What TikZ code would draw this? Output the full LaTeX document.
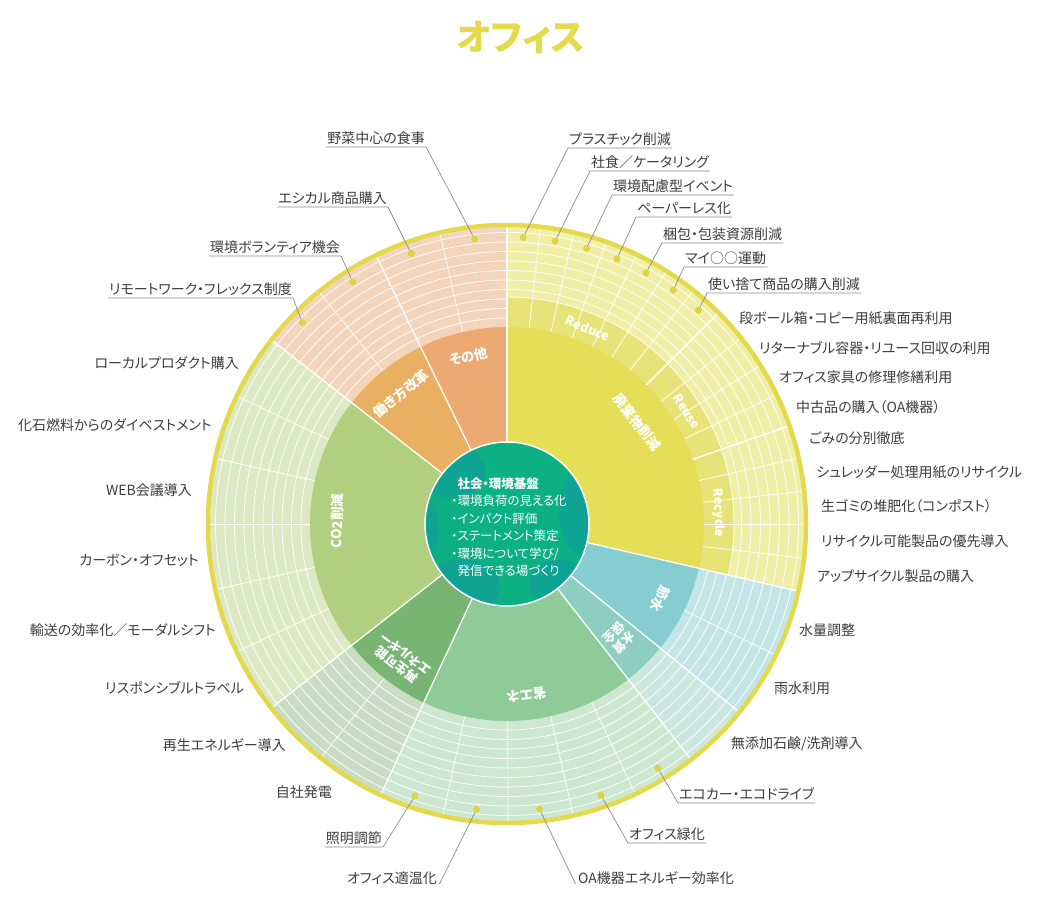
\documentclass[tikz,border=0pt]{standalone}
\usepackage{fontspec}
\setmainfont{Noto Sans CJK JP}[RawFeature=+palt]
\usetikzlibrary{calc}

\definecolor{titleyellow}{HTML}{E4DA4B}
\definecolor{ringyellow}{HTML}{E3D94A}
\definecolor{dotyellow}{HTML}{DDD343}
\definecolor{haiki}{HTML}{E5DF57}
\definecolor{yelband}{HTML}{E8E378}
\definecolor{yelouter}{HTML}{F1EEA8}
\definecolor{sonota}{HTML}{ECA972}
\definecolor{hataraki}{HTML}{E8B060}
\definecolor{orangeouter}{HTML}{F4D5BC}
\definecolor{cotwo}{HTML}{B0D07F}
\definecolor{cotwoouter}{HTML}{DCE9C4}
\definecolor{saisei}{HTML}{78B573}
\definecolor{saiseiouter}{HTML}{C8DDC4}
\definecolor{shoene}{HTML}{8FCB98}
\definecolor{shoeneouter}{HTML}{CDE7D1}
\definecolor{suishitsu}{HTML}{8ECEC0}
\definecolor{suishitsuouter}{HTML}{CBE7E0}
\definecolor{setsui}{HTML}{86CDD1}
\definecolor{setsuouter}{HTML}{C4E5E7}
\definecolor{coreteal}{HTML}{0EA393}
\definecolor{coregreen}{HTML}{0DB083}
\definecolor{inkgray}{HTML}{3D3D3D}
\definecolor{leadgray}{HTML}{8C8C8C}

\begin{document}
\begin{tikzpicture}[x=1pt, y=1pt,
  itemlabel/.style={font=\fontsize{14}{16}\selectfont, text=inkgray, inner xsep=1pt, inner ysep=2.5pt},
  seclabel/.style={font=\bfseries\fontsize{13.5}{16}\selectfont, text=white, align=center, inner sep=0pt},
  smallsec/.style={seclabel, font=\bfseries\fontsize{12.5}{14}\selectfont},
  rrlabel/.style={font=\bfseries\fontsize{12.5}{14}\selectfont, text=white, inner sep=0pt},
  dotmark/.style={circle, fill=dotyellow, inner sep=0pt, minimum size=7pt},
  leader/.style={draw=leadgray, line width=0.7pt},
  gridline/.style={draw=white, line width=0.7pt},
  sepline/.style={draw=white, line width=1.3pt}
]
  \useasboundingbox[fill=white] (0,0) rectangle (1046,-912);
  \clip (0,0) rectangle (1046,-883);
  \coordinate (c) at (507,-524);

  \node[font=\bfseries\fontsize{36}{40}\selectfont, text=titleyellow] (title) at (521,-38) {オフィス};

  \begin{scope}[shift={(c)}]
    % outer ring
    \foreach \a/\b/\col in {-13/90/yelouter, -39/-13/setsuouter, -52/-39/suishitsuouter,
      -115/-52/shoeneouter, -142/-115/saiseiouter, 142/218/cotwoouter, 90/142/orangeouter}
      \fill[\col] (0,0) -- (\a:297) arc[start angle=\a, end angle=\b, radius=297] -- cycle;
    \foreach \r in {206,215.5,...,292}
      \draw[gridline] (0,0) circle[radius=\r];
    \fill[yelband] (0,0) -- (-13:227) arc[start angle=-13, end angle=90, radius=227] -- cycle;
    \draw[gridline] (-13:227) arc[start angle=-13, end angle=90, radius=227];
    \foreach \k in {1,...,15}
      \draw[gridline] (0,0) -- ({-13+6.4375*\k}:297);
    \foreach \t in {-26,-64.6,-77.2,-89.8,-102.4,-128.5,154.67,167.33,180,192.67,205.33,103,129}
      \draw[gridline] (0,0) -- (\t:297);

    % inner ring
    \foreach \a/\b/\col in {-13/90/haiki, -39/-13/setsui, -52/-39/suishitsu, -115/-52/shoene,
      -142/-115/saisei, 142/218/cotwo, 116/142/hataraki, 90/116/sonota}
      \fill[\col] (0,0) -- (\a:197) arc[start angle=\a, end angle=\b, radius=197] -- cycle;
    \foreach \t in {-13,-39,-52,-115,-142,142,116,90}
      \draw[sepline] (\t:82) -- (\t:297);
    \foreach \t in {44.94,19.19}
      \draw[sepline] (\t:197) -- (\t:297);

    % core
    \begin{scope}
      \clip (0,0) circle[radius=82];
      \fill[coregreen] (0,0) circle[radius=82];
      \fill[coreteal] (-55,52) ellipse[x radius=34, y radius=26];
      \fill[coreteal] (78,12) ellipse[x radius=26, y radius=44];
      \fill[coreteal] (-45,-62) ellipse[x radius=38, y radius=26];
      \fill[coreteal] (52,-58) ellipse[x radius=30, y radius=22];
      \fill[coreteal] (-82,-5) ellipse[x radius=14, y radius=30];
    \end{scope}
    \draw[white, line width=1.5pt] (0,0) circle[radius=82];

    \draw[ringyellow, line width=4.5pt] (0,0) circle[radius=299];

    % dots
    \foreach \k in {0,...,6}
      \node[dotmark] (reduce\k) at ({90-6.4375*(\k+0.5)}:287) {};
    \foreach \t [count=\i] in {96.5,109.5,122.5,135.5}
      \node[dotmark] (other\i) at (\t:287) {};
    \foreach \k in {0,...,4}
      \node[dotmark] (energy\k) at ({-58.3-12.6*\k}:287) {};

    % sector names
    \node[seclabel, rotate=13] (sonotaL) at (103:172) {その他};
    \node[seclabel, rotate=39] (hatarakiL) at (129:168) {働き方改革};
    \node[seclabel, rotate=-52] (haikiL) at (38:165) {廃棄物削減};
    \node[rrlabel, rotate=-22.5] (reduceL) at (67.5:212) {Reduce};
    \node[rrlabel, rotate=-58] (reuseL) at (32:212) {Reuse};
    \node[rrlabel, rotate=-87] (recycleL) at (3:212) {Recycle};
    \node[seclabel, rotate=89] (cotwoL) at (179:170) {CO2削減};
    \node[seclabel, rotate=-116] (setsuiL) at (-26:170) {節水};
    \node[smallsec, rotate=-135.5] (suishitsuL) at (-45.5:160) {水質\\保全};
    \node[seclabel, rotate=-173.5] (shoeneL) at (-83.5:172) {省エネ};
    \node[smallsec, rotate=142] (saiseiL) at (-128:172) {再生可能\\エネルギー};
  \end{scope}

  \node[font=\fontsize{12.5}{17.5}\selectfont, text=white, align=left, inner sep=0pt] (core) at (509,-527)
    {\phantom{・}\textbf{社会・環境基盤}\\・環境負荷の見える化\\・インパクト評価\\・ステートメント策定\\・環境について学び/\\\phantom{・}発信できる場づくり};

  % labels with leaders
  \node[itemlabel, anchor=south west] (plastic) at (568,-148) {プラスチック削減};
  \node[itemlabel, anchor=south west] (catering) at (590,-171) {社食／ケータリング};
  \node[itemlabel, anchor=south west] (event) at (612,-195) {環境配慮型イベント};
  \node[itemlabel, anchor=south west] (paperless) at (636,-217) {ペーパーレス化};
  \node[itemlabel, anchor=south west] (packing) at (662,-243) {梱包・包装資源削減};
  \node[itemlabel, anchor=south west] (myitem) at (684,-267) {マイ○○運動};
  \node[itemlabel, anchor=south west] (disposable) at (707,-293) {使い捨て商品の購入削減};
  \draw[leader] (reduce0) -- (plastic.south west) -- (plastic.south east);
  \draw[leader] (reduce1) -- (catering.south west) -- (catering.south east);
  \draw[leader] (reduce2) -- (event.south west) -- (event.south east);
  \draw[leader] (reduce3) -- (paperless.south west) -- (paperless.south east);
  \draw[leader] (reduce4) -- (packing.south west) -- (packing.south east);
  \draw[leader] (reduce5) -- (myitem.south west) -- (myitem.south east);
  \draw[leader] (reduce6) -- (disposable.south west) -- (disposable.south east);

  \node[itemlabel, anchor=south east] (vegetable) at (426,-147) {野菜中心の食事};
  \node[itemlabel, anchor=south east] (ethical) at (388,-207) {エシカル商品購入};
  \node[itemlabel, anchor=south east] (volunteer) at (341,-256) {環境ボランティア機会};
  \node[itemlabel, anchor=south east] (remote) at (293,-298) {リモートワーク・フレックス制度};
  \draw[leader] (other1) -- (vegetable.south east) -- (vegetable.south west);
  \draw[leader] (other2) -- (ethical.south east) -- (ethical.south west);
  \draw[leader] (other3) -- (volunteer.south east) -- (volunteer.south west);
  \draw[leader] (other4) -- (remote.south east) -- (remote.south west);

  \node[itemlabel, anchor=south west] (ecocar) at (678,-803) {エコカー・エコドライブ};
  \node[itemlabel, anchor=south west] (greening) at (628,-843) {オフィス緑化};
  \node[itemlabel, anchor=south west] (oaenergy) at (577,-887) {OA機器エネルギー効率化};
  \node[itemlabel, anchor=south east] (tekion) at (438,-887) {オフィス適温化};
  \node[itemlabel, anchor=south east] (lighting) at (383,-847) {照明調節};
  \draw[leader] (energy0) -- (ecocar.south west) -- (ecocar.south east);
  \draw[leader] (energy1) -- (greening.south west) -- (greening.south east);
  \draw[leader] (energy2) -- (oaenergy.south west) -- (oaenergy.south east);
  \draw[leader] (energy3) -- (tekion.south east) -- (tekion.south west);
  \draw[leader] (energy4) -- (lighting.south east) -- (lighting.south west);

  % plain labels, right
  \node[itemlabel, anchor=west] (cardboard) at (738,-318) {段ボール箱・コピー用紙裏面再利用};
  \node[itemlabel, anchor=west] (returnable) at (758,-348) {リターナブル容器・リユース回収の利用};
  \node[itemlabel, anchor=west] (furniture) at (778,-377) {オフィス家具の修理修繕利用};
  \node[itemlabel, anchor=west] (usedoa) at (795,-407) {中古品の購入（OA機器）};
  \node[itemlabel, anchor=west] (sorting) at (808,-438) {ごみの分別徹底};
  \node[itemlabel, anchor=west] (shredder) at (815,-472) {シュレッダー処理用紙のリサイクル};
  \node[itemlabel, anchor=west] (compost) at (820,-506) {生ゴミの堆肥化（コンポスト）};
  \node[itemlabel, anchor=west] (recyclable) at (820,-541) {リサイクル可能製品の優先導入};
  \node[itemlabel, anchor=west] (upcycle) at (816,-576) {アップサイクル製品の購入};
  \node[itemlabel, anchor=west] (flow) at (798,-630) {水量調整};
  \node[itemlabel, anchor=west] (rain) at (773,-688) {雨水利用};
  \node[itemlabel, anchor=west] (soap) at (730,-744) {無添加石鹸/洗剤導入};

  % plain labels, left
  \node[itemlabel, anchor=east] (local) at (240,-363) {ローカルプロダクト購入};
  \node[itemlabel, anchor=east] (divest) at (213,-425) {化石燃料からのダイベストメント};
  \node[itemlabel, anchor=east] (web) at (193,-490) {WEB会議導入};
  \node[itemlabel, anchor=east] (offset) at (200,-560) {カーボン・オフセット};
  \node[itemlabel, anchor=east] (modal) at (217,-630) {輸送の効率化／モーダルシフト};
  \node[itemlabel, anchor=east] (travel) at (245,-688) {リスポンシブルトラベル};
  \node[itemlabel, anchor=east] (renewable) at (287,-745) {再生エネルギー導入};
  \node[itemlabel, anchor=east] (selfpower) at (333,-792) {自社発電};
\end{tikzpicture}
\end{document}
